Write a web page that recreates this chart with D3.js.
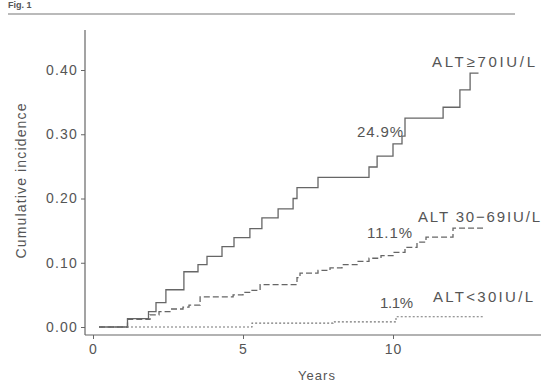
<!DOCTYPE html>
<html><head><meta charset="utf-8">
<script src="https://cdn.jsdelivr.net/npm/d3@7"></script>
<style>body{margin:0;background:#fff}svg{display:block}text{font-family:"Liberation Sans",Arial,sans-serif;fill:#555}</style>
</head><body>
<svg id="c" width="543" height="383"></svg>
<script>
// Data (years, cumulative incidence)
const altHigh = [[0.2,0],[1.15,0.013],[1.85,0.024],[2.1,0.038],[2.43,0.058],[3.03,0.086],[3.5,0.097],[3.8,0.11],[4.3,0.125],[4.7,0.139],[5.23,0.153],[5.63,0.17],[6.17,0.184],[6.67,0.2],[6.8,0.217],[7.5,0.233],[9.2,0.249],[9.47,0.266],[10.0,0.285],[10.3,0.297],[10.4,0.325],[11.67,0.342],[12.23,0.369],[12.57,0.395],[12.85,0.395]];
const altMid = [[0.2,0],[1.15,0.012],[1.9,0.019],[2.2,0.024],[2.6,0.028],[3.0,0.031],[3.2,0.034],[3.57,0.047],[4.67,0.05],[5.0,0.054],[5.3,0.057],[5.57,0.066],[6.8,0.077],[6.9,0.084],[7.5,0.088],[7.9,0.092],[8.3,0.097],[8.8,0.102],[9.2,0.107],[9.6,0.111],[10.0,0.116],[10.4,0.124],[10.8,0.132],[11.1,0.14],[12.0,0.154],[13.0,0.154]];
const altLow = [[0.2,0],[5.3,0.006],[8.0,0.008],[10.1,0.016],[13.0,0.016]];
const yTicks = [0, 0.1, 0.2, 0.3, 0.4];
const xTicks = [0, 5, 10];
const groupLabels = ["ALT\u226570IU/L", "ALT 30\u221269IU/L", "ALT<30IU/L"];
const pctLabels = ["24.9%", "11.1%", "1.1%"];

const svg = d3.select("#c");
const x = d3.scaleLinear().domain([0, 14.9]).range([93, 540]);
const y = d3.scaleLinear().domain([0, 0.4]).range([327, 70]);

// header
svg.append("text").attr("x", 8).attr("y", 8).style("font-weight","bold").style("font-size","9px").attr("fill","#444").text("Fig. 1");
svg.append("line").attr("x1",8).attr("x2",515).attr("y1",14).attr("y2",14).attr("stroke","#777").attr("stroke-width",1.2);

const gray = "#666";
// y axis
const yAxis = d3.axisLeft(y).tickValues(yTicks).tickFormat(d3.format(".2f")).tickSize(4).tickPadding(3);
const gy = svg.append("g").attr("transform","translate(85,0)").call(yAxis);
gy.select(".domain").remove();
gy.append("line").attr("x1",0).attr("x2",0).attr("y1",30).attr("y2",335).attr("stroke",gray).attr("stroke-width",1.2);
gy.selectAll(".tick line").attr("stroke",gray);
gy.selectAll(".tick text").style("font-size","14px").style("letter-spacing","1.2px").attr("fill","#555").attr("font-family",null);

// x axis
const xAxis = d3.axisBottom(x).tickValues(xTicks).tickSize(4).tickPadding(5);
const gx = svg.append("g").attr("transform","translate(0,335)").call(xAxis);
gx.select(".domain").remove();
gx.append("line").attr("x1",85).attr("x2",541).attr("y1",0).attr("y2",0).attr("stroke",gray).attr("stroke-width",1.2);
gx.selectAll(".tick line").attr("stroke",gray);
gx.selectAll(".tick text").style("font-size","14px").style("letter-spacing","1px").attr("fill","#555").attr("font-family",null);

svg.append("text").attr("x",317).attr("y",380).attr("text-anchor","middle").style("font-size","13px").style("letter-spacing","1px").text("Years");
svg.append("text").attr("transform","translate(26,181) rotate(-90)").attr("text-anchor","middle").attr("textLength",155).attr("lengthAdjust","spacing").style("font-size","14px").text("Cumulative incidence");

// curves
const line = d3.line().x(d=>x(d[0])).y(d=>y(d[1])).curve(d3.curveStepAfter);
svg.append("path").datum(altHigh).attr("d",line).attr("fill","none").attr("stroke","#666").attr("stroke-width",1.3);
svg.append("path").datum(altMid).attr("d",line).attr("fill","none").attr("stroke","#666").attr("stroke-width",1.3).attr("stroke-dasharray","6,3");
svg.append("path").datum(altLow).attr("d",line).attr("fill","none").attr("stroke","#777").attr("stroke-width",1.1).attr("stroke-dasharray","2,2");

// labels
const lab = [
  {t:groupLabels[0], x:432, y:67, w:103},
  {t:pctLabels[0], x:357, y:137, w:46},
  {t:groupLabels[1], x:418, y:222, w:122},
  {t:pctLabels[1], x:367, y:238, w:45},
  {t:groupLabels[2], x:433, y:302, w:100},
  {t:pctLabels[2], x:380, y:308, w:33}
];
svg.selectAll("text.lab").data(lab).enter().append("text").attr("class","lab")
  .attr("x",d=>d.x).attr("y",d=>d.y).attr("textLength",d=>d.w).attr("lengthAdjust","spacing")
  .style("font-size","15px").text(d=>d.t);
</script>
</body></html>
